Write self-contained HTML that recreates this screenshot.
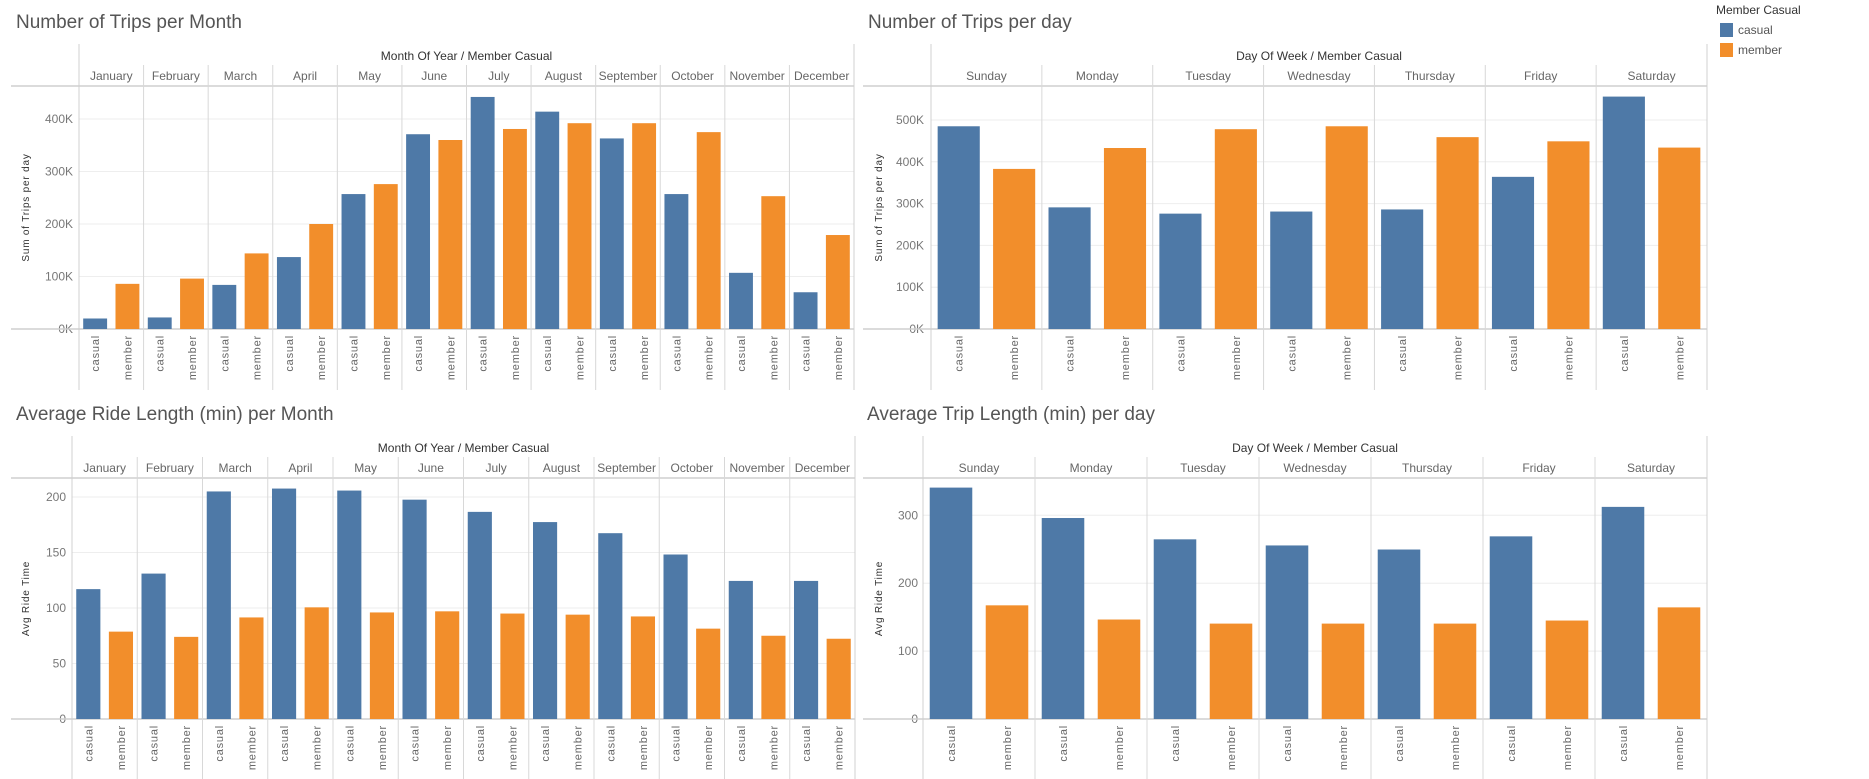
<!DOCTYPE html>
<html><head><meta charset="utf-8"><style>
body{margin:0;background:#fff;}
svg{display:block;font-family:"Liberation Sans Narrow","Liberation Sans",sans-serif;}
</style></head><body>
<svg id="dash" width="1869" height="779" viewBox="0 0 1869 779" xmlns="http://www.w3.org/2000/svg">
<g>
<text x="1716" y="14" font-size="12" fill="#333">Member Casual</text>
<rect x="1720" y="23" width="13" height="14" fill="#4e79a7"/>
<text x="1738" y="34" font-size="12" fill="#555">casual</text>
<rect x="1720" y="43" width="13" height="14" fill="#f28e2b"/>
<text x="1738" y="54" font-size="12" fill="#555">member</text>
</g>
</svg>
<script>
const months = ["January","February","March","April","May","June","July","August","September","October","November","December"];
const days = ["Sunday","Monday","Tuesday","Wednesday","Thursday","Friday","Saturday"];
const tripsMonthCasual = [20000,22000,84000,137000,257000,371000,442000,414000,363000,257000,107000,70000];
const tripsMonthMember = [86000,96000,144000,200000,276000,360000,381000,392000,392000,375000,253000,179000];
const tripsDayCasual = [485000,291000,276000,281000,286000,364000,556000];
const tripsDayMember = [383000,433000,478000,485000,459000,449000,434000];
const rideMonthCasual = [117,131,205,207.6,205.8,197.6,186.6,177.4,167.4,148.2,124.4,124.4];
const rideMonthMember = [78.7,74,91.5,100.6,96,97,95,94,92.4,81.4,75,72.3];
const rideDayCasual = [340.8,296,264.6,255.6,249.6,269,312.4];
const rideDayMember = [167.4,146.5,140.5,140.5,140.5,145,164.4];
const tripTicks = [0,100000,200000,300000,400000];
const tripTicksDay = [0,100000,200000,300000,400000,500000];
const rideTicksMonth = [0,50,100,150,200];
const rideTicksDay = [0,100,200,300];
const seriesNames = ["casual","member"];

const svg = document.getElementById('dash');
const NS = 'http://www.w3.org/2000/svg';
function mk(tag, attrs, parent, txt){
  const e = document.createElementNS(NS, tag);
  for (const k in attrs) e.setAttribute(k, attrs[k]);
  if (txt !== undefined) e.textContent = txt;
  parent.appendChild(e);
  return e;
}
function fmtK(v){ return Math.round(v/1000)+'K'; }

function chart(cfg){
  const g = mk('g', {}, svg);
  
  
  const t = mk('text', {x:cfg.titleX, y:cfg.top-16, 'font-size':19, fill:'#555'}, g, cfg.title);
  
  
  const top = cfg.top, rowTop = top+21, hLine = top+42, base = cfg.base, bottom = cfg.bottom;
  const L = cfg.left, R = cfg.right, n = cfg.cats.length, cw = (R-L)/n;
  const y = v => base - v*cfg.ppu;
  // gridlines
  cfg.ticks.forEach(v => {
    if (v>0) mk('line', {x1:L, x2:R, y1:y(v), y2:y(v), stroke:'#eeeeee', 'stroke-width':1}, g);
    const tl = mk('text', {x:cfg.tickX, y:y(v)+4, 'font-size':12, fill:'#777', 'text-anchor':'end'}, g, cfg.fmt(v));
    
    
  });
  // frame lines
  mk('line', {x1:L, x2:L, y1:top, y2:bottom, stroke:'#d0d0d0'}, g);
  mk('line', {x1:R, x2:R, y1:top, y2:bottom, stroke:'#d0d0d0'}, g);
  mk('line', {x1:cfg.outer, x2:R, y1:hLine, y2:hLine, stroke:'#cfcfcf', 'stroke-width':1.5}, g);
  mk('line', {x1:cfg.outer, x2:R, y1:base, y2:base, stroke:'#cfcfcf', 'stroke-width':1.5}, g);
  const ht = mk('text', {x:(L+R)/2, y:top+16, 'font-size':12, fill:'#333', 'text-anchor':'middle'}, g, cfg.header);
  
  
  const yt = mk('text', {x:cfg.ytX, y:(hLine+base)/2, 'font-size':10, fill:'#333', 'text-anchor':'middle', 'letter-spacing':'0.8', 'font-family':'Liberation Sans, sans-serif', transform:'rotate(-90 '+cfg.ytX+' '+((hLine+base)/2)+')'}, g, cfg.ytitle);
  
  
  cfg.cats.forEach((c, i) => {
    const x0 = L + i*cw;
    if (i>0) mk('line', {x1:x0, x2:x0, y1:rowTop, y2:bottom, stroke:'#d8d8d8'}, g);
    const cl = mk('text', {x:x0+cw/2, y:rowTop+15, 'font-size':12, fill:'#666', 'text-anchor':'middle'}, g, c);
    
    
    const sw = cw/2, bw = sw*cfg.bar;
    [cfg.s1, cfg.s2].forEach((arr, k) => {
      const cx = x0 + sw*k + sw/2;
      const v = arr[i];
      const r = mk('rect', {x:cx-bw/2, y:y(v), width:bw, height:base-y(v), fill:k===0?'#4e79a7':'#f28e2b'}, g);
      
      
      const lx = cx+4, ly = base+6;
      const lt = mk('text', {x:lx, y:ly, 'font-size':11, fill:'#666', 'text-anchor':'end', 'letter-spacing':'0.8', 'font-family':'Liberation Sans, sans-serif', transform:'rotate(-90 '+lx+' '+ly+')'}, g, seriesNames[k]);
      
      
    });
  });
}
chart({name:'trips-per-month-chart', title:'Number of Trips per Month', titleX:16, top:44, base:329, bottom:390, left:79, right:854, outer:11, cats:months, s1:tripsMonthCasual, s2:tripsMonthMember, ppu:52.5/100000, ticks:tripTicks, fmt:fmtK, tickX:73, ytX:29, header:'Month Of Year / Member Casual', ytitle:'Sum of Trips per day', bar:0.74});
chart({name:'trips-per-day-chart', title:'Number of Trips per day', titleX:868, top:44, base:329, bottom:390, left:931, right:1707, outer:863, cats:days, s1:tripsDayCasual, s2:tripsDayMember, ppu:41.8/100000, ticks:tripTicksDay, fmt:fmtK, tickX:924, ytX:882, header:'Day Of Week / Member Casual', ytitle:'Sum of Trips per day', bar:0.76});
chart({name:'ride-length-per-month-chart', title:'Average Ride Length (min) per Month', titleX:16, top:436, base:719, bottom:779, left:72, right:855, outer:11, cats:months, s1:rideMonthCasual, s2:rideMonthMember, ppu:55.5/50, ticks:rideTicksMonth, fmt:v=>String(v), tickX:66, ytX:29, header:'Month Of Year / Member Casual', ytitle:'Avg Ride Time', bar:0.74});
chart({name:'trip-length-per-day-chart', title:'Average Trip Length (min) per day', titleX:867, top:436, base:719, bottom:779, left:923, right:1707, outer:863, cats:days, s1:rideDayCasual, s2:rideDayMember, ppu:67.9/100, ticks:rideTicksDay, fmt:v=>String(v), tickX:918, ytX:882, header:'Day Of Week / Member Casual', ytitle:'Avg Ride Time', bar:0.76});
</script>
</body></html>
